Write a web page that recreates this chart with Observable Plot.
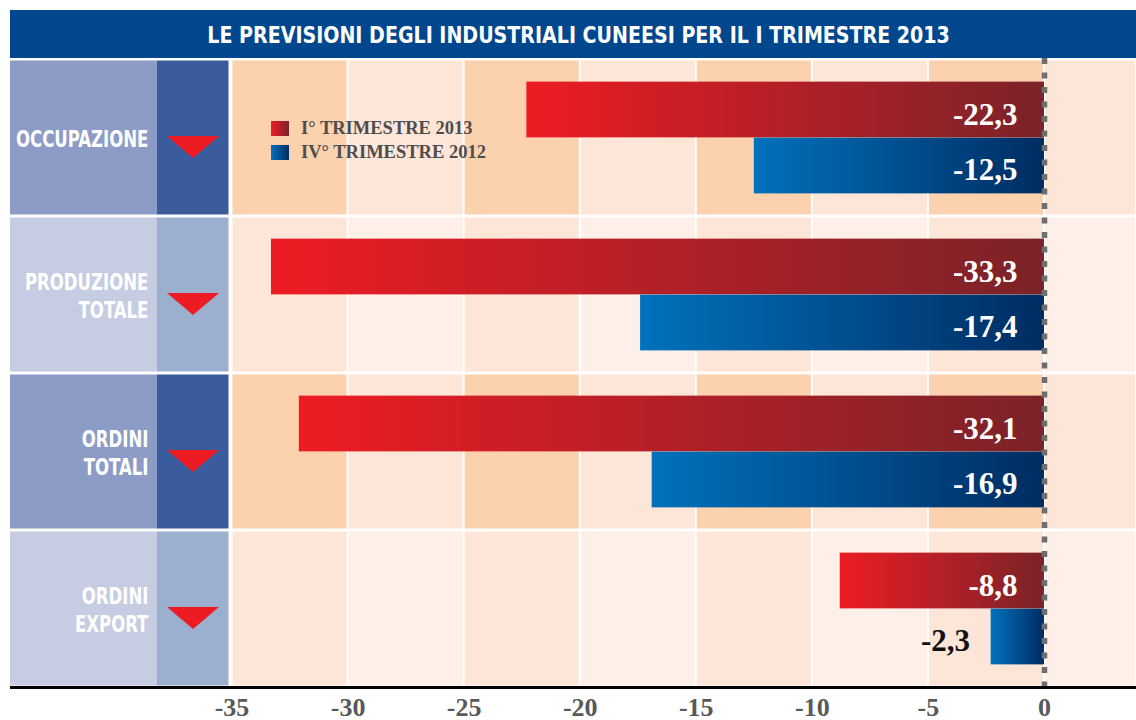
<!DOCTYPE html>
<html>
<head>
<meta charset="utf-8">
<script src="https://cdn.jsdelivr.net/npm/d3@7"></script>
<script src="https://cdn.jsdelivr.net/npm/@observablehq/plot@0.6"></script>
<style>
  body { margin: 0; background: #fff; }
  #wrap { position: relative; width: 1136px; height: 720px; overflow: hidden; }
  #title { position: absolute; left: 10px; top: 10px; width: 1126px; height: 48px; background: #01478E;
    color: #fff; font-family: "Liberation Sans Narrow", "Arial Narrow", "DejaVu Sans Condensed", sans-serif;
    font-weight: bold; font-size: 23px; line-height: 50px; text-align: center; box-sizing: border-box; padding-left: 12px; white-space: nowrap; }
  #title span { display: inline-block; transform: scaleX(0.92); transform-origin: 50% 50%; }
  #panels { position: absolute; left: 10px; top: 58px; display: flex; }
  #panels svg { display: block; max-width: none; }
  .leg { position: absolute; left: 271px; font-family: "Liberation Serif", "DejaVu Serif", serif; font-weight: bold;
    font-size: 18.5px; color: #4D4D4F; line-height: 18.5px; white-space: nowrap; }
  .sw { position: absolute; left: 271px; width: 18px; height: 15px; }
</style>
</head>
<body>
<div id="wrap">
  <svg width="0" height="0" style="position:absolute">
    <defs>
      <linearGradient id="gradRed" x1="0" y1="0" x2="1" y2="0">
        <stop offset="0" stop-color="#ED1C24"/>
        <stop offset="1" stop-color="#7A2329"/>
      </linearGradient>
      <linearGradient id="gradBlue" x1="0" y1="0" x2="1" y2="0">
        <stop offset="0" stop-color="#0072BC"/>
        <stop offset="1" stop-color="#002C62"/>
      </linearGradient>
    </defs>
  </svg>
  <div id="title"><span id="titleText"></span></div>
  <div id="panels"></div>
  <div class="sw" style="top:121px;background:linear-gradient(to right,#ED1C24,#7A2329)"></div>
  <div class="sw" style="top:145px;background:linear-gradient(to right,#0072BC,#002C62)"></div>
  <div class="leg" id="leg1" style="left:301px;top:118.5px"></div>
  <div class="leg" id="leg2" style="left:301px;top:142.5px"></div>
</div>
<script>
// ---- data ----
const titleText = "LE PREVISIONI DEGLI INDUSTRIALI CUNEESI PER IL I TRIMESTRE 2013";
const categories = ["OCCUPAZIONE", "PRODUZIONE\nTOTALE", "ORDINI\nTOTALI", "ORDINI\nEXPORT"];
const seriesNames = ["I° TRIMESTRE 2013", "IV° TRIMESTRE 2012"];
const q1_2013 = [-22.3, -33.3, -32.1, -8.8];
const q4_2012 = [-12.5, -17.4, -16.9, -2.3];
const xTicks = [-35, -30, -25, -20, -15, -10, -5, 0];

// ---- build ----
document.getElementById("titleText").textContent = titleText;
document.getElementById("leg1").textContent = seriesNames[0];
document.getElementById("leg2").textContent = seriesNames[1];

const rows = categories.map((c, i) => ({cat: c, q1: q1_2013[i], q4: q4_2012[i]}));
const xDomain = [-35.065, 3.963];
const bounds = [...xTicks, xDomain[1]];
const shades = [["#FCD1AE", "#FDE5D7"], ["#FDE5D7", "#FEF0E8"]];
const bgCells = categories.flatMap((c, i) =>
  bounds.slice(0, -1).map((x1, j) => ({cat: c, x1, x2: bounds[j + 1], fill: shades[i % 2][j % 2]})));

const H = 672, MB = 43;
const band = (H - MB) / categories.length;
const barH = 56;
const fmt = v => v.toFixed(1).replace(".", ",");
const serif = "'Liberation Serif', 'Times New Roman', 'DejaVu Serif', serif";
const narrow = "'Liberation Sans Narrow', 'Arial Narrow', 'DejaVu Sans Condensed', sans-serif";
const common = {height: H, marginTop: 0, marginBottom: MB, marginLeft: 0, marginRight: 0,
  y: {domain: categories, padding: 0, axis: null}};

const labelColors = ["#8C9CC6", "#C6CCE2"];
const arrowColors = ["#3B5C9C", "#9BAFCF"];

const labelPlot = Plot.plot({
  ...common, width: 147,
  marks: [
    Plot.cell(categories, {y: d => d, fill: (d, i) => labelColors[i % 2], insetTop: 1.5, insetBottom: 1.5}),
    Plot.text(categories, {y: d => d, text: d => d, frameAnchor: "right", dx: -9, textAnchor: "end",
      fill: "white", fontSize: 23, fontWeight: "bold", fontFamily: narrow, lineHeight: 1.2}),
    Plot.frame({anchor: "bottom", stroke: "#000", strokeWidth: 3})
  ]
});
// condense the category labels horizontally around their right edge
{
  const g = labelPlot.querySelector('g[aria-label="text"]');
  const prev = g.getAttribute("transform") || "";
  g.setAttribute("transform", `translate(138,0) scale(0.8,1) translate(-138,0) ${prev}`);
}

const downTri = {draw(ctx) { ctx.moveTo(-26, -11); ctx.lineTo(26, -11); ctx.lineTo(0, 11); ctx.closePath(); }};
const arrowPlot = Plot.plot({
  ...common, width: 73,
  marks: [
    Plot.cell(categories, {y: d => d, fill: (d, i) => arrowColors[i % 2], insetTop: 1.5, insetBottom: 1.5, insetRight: 1.5}),
    Plot.dot(categories, {y: d => d, symbol: downTri, fill: "#ED1C24", dx: -1, dy: 9}),
    Plot.frame({anchor: "bottom", stroke: "#000", strokeWidth: 3})
  ]
});

const inTop = band / 2 - barH, inBot = band / 2;
const mainPlot = Plot.plot({
  ...common, width: 906,
  style: {overflow: "visible"},
  x: {domain: xDomain, label: null},
  marks: [
    Plot.barX(bgCells, {x1: "x1", x2: "x2", y: "cat", fill: "fill", insetTop: 1.5, insetBottom: 1.5, insetLeft: 1, insetRight: 1}),
    Plot.barX(rows, {x: "q1", y: "cat", fill: "url(#gradRed)", insetTop: inTop, insetBottom: inBot}),
    Plot.barX(rows, {x: "q4", y: "cat", fill: "url(#gradBlue)", insetTop: inBot, insetBottom: inTop}),
    Plot.ruleX([0], {stroke: "#6D6E70", strokeWidth: 5.5, strokeDasharray: "6,8.5"}),
    Plot.text(rows, {filter: d => Math.abs(d.q1) >= 5, x: 0, y: "cat", text: d => fmt(d.q1), dx: -27, dy: -23,
      textAnchor: "end", fill: "white", fontSize: 31, fontWeight: "bold", fontFamily: serif}),
    Plot.text(rows, {filter: d => Math.abs(d.q1) < 5, x: "q1", y: "cat", text: d => fmt(d.q1), dx: -21, dy: -23,
      textAnchor: "end", fill: "#111", fontSize: 31, fontWeight: "bold", fontFamily: serif}),
    Plot.text(rows, {filter: d => Math.abs(d.q4) >= 5, x: 0, y: "cat", text: d => fmt(d.q4), dx: -27, dy: 32,
      textAnchor: "end", fill: "white", fontSize: 31, fontWeight: "bold", fontFamily: serif}),
    Plot.text(rows, {filter: d => Math.abs(d.q4) < 5, x: "q4", y: "cat", text: d => fmt(d.q4), dx: -21, dy: 32,
      textAnchor: "end", fill: "#111", fontSize: 31, fontWeight: "bold", fontFamily: serif}),
    Plot.frame({anchor: "bottom", stroke: "#000", strokeWidth: 3}),
    Plot.axisX({ticks: xTicks, tickFormat: d => String(d), tickSize: 0, tickPadding: 10, fontSize: 26,
      fontWeight: "bold", fontFamily: serif, fill: "#58595B", label: null})
  ]
});

const panels = document.getElementById("panels");
panels.append(labelPlot, arrowPlot, mainPlot);
</script>
</body>
</html>
